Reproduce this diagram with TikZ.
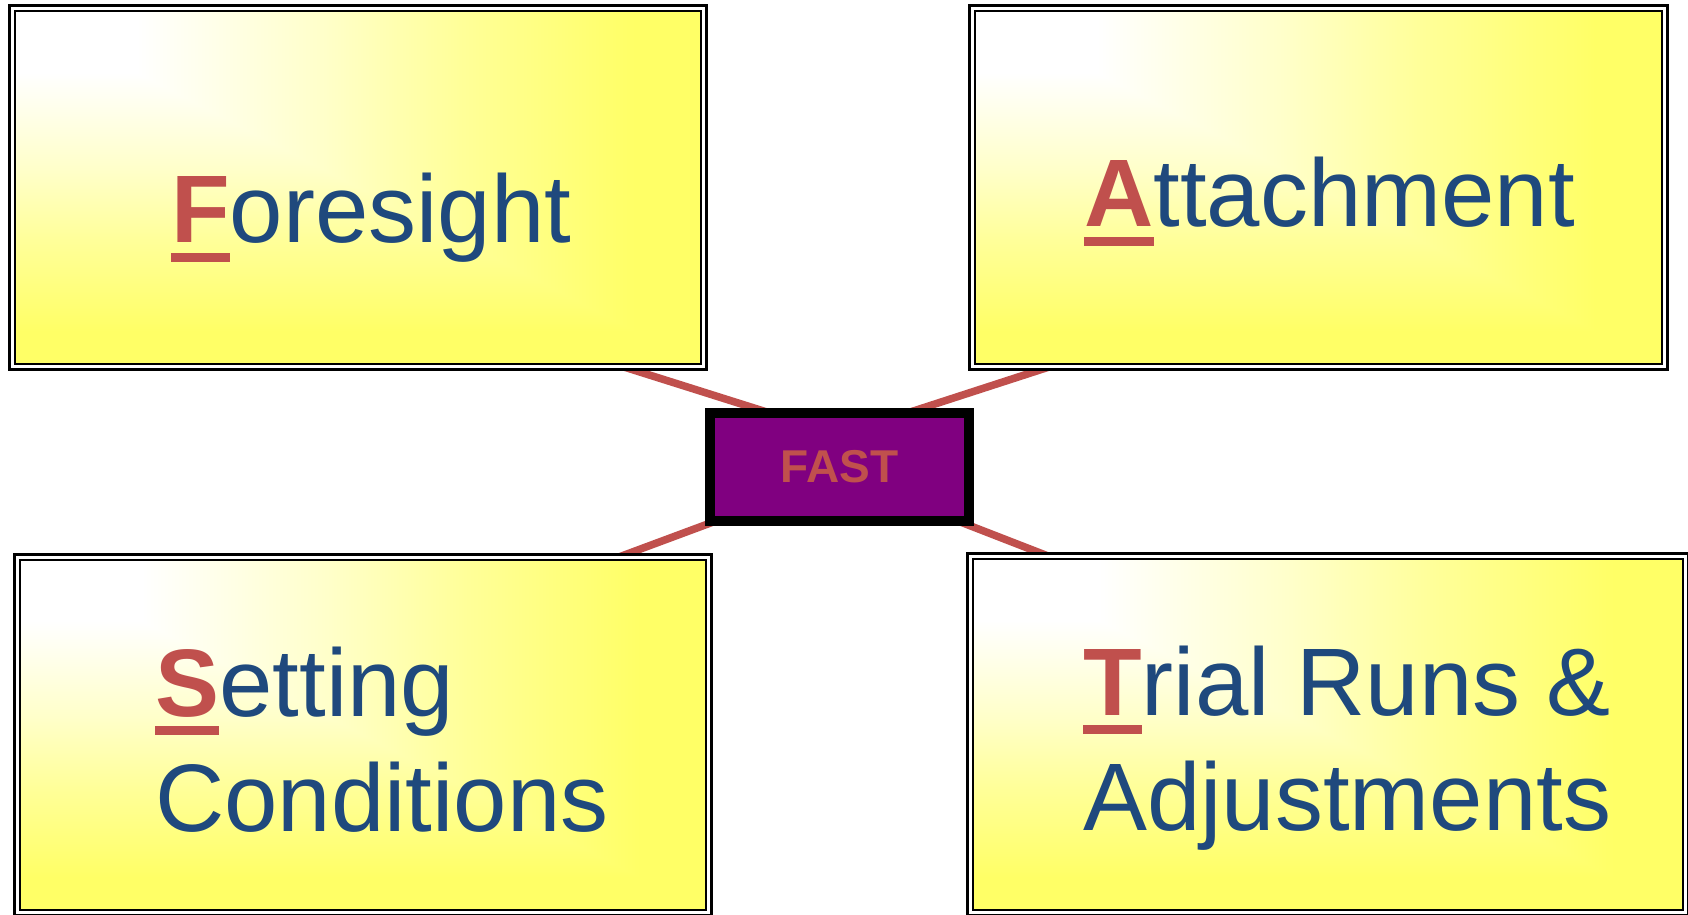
\documentclass[tikz,border=0pt]{standalone}
\usepackage{fontspec}
\setmainfont{Liberation Sans}
\usetikzlibrary{positioning, calc, backgrounds}
\definecolor{cblue}{HTML}{1F497D}
\definecolor{cred}{HTML}{C0504D}
\definecolor{cpurple}{HTML}{800080}
\definecolor{cyellow}{HTML}{FFFF66}
\pgfdeclarehorizontalshading{cardacross}{100bp}{%
  color(0bp)=(white); color(34bp)=(white); color(47.5bp)=(cyellow!35!white);
  color(57.5bp)=(cyellow!67!white); color(70bp)=(cyellow); color(100bp)=(cyellow)}
\pgfdeclareverticalshading{carddown}{100bp}{%
  color(0bp)=(cyellow); color(30bp)=(cyellow); color(42.5bp)=(cyellow!67!white);
  color(52.5bp)=(cyellow!35!white); color(66bp)=(white); color(100bp)=(white)}
\newcommand{\keyletter}[1]{{\bfseries\color{cred}\sbox0{#1}\rlap{\rule[-0.2em]{\wd0}{0.1em}}\usebox0}}
\tikzset{
  card/.style={rectangle, draw=black, line width=1.4pt, double=white, double distance=1.7pt,
    inner sep=0pt, outer sep=0pt,
    path picture={
      \shade[shading=cardacross] (path picture bounding box.north west) rectangle (path picture bounding box.south east);
      \shade[shading=carddown] (path picture bounding box.north west) -- (path picture bounding box.south west)
        -- (path picture bounding box.south east) -- cycle;
    }},
  hub/.style={rectangle, draw=black, line width=5.7pt, fill=cpurple, text=cred, inner sep=0pt, outer sep=0pt,
    font=\fontsize{26.2}{30}\selectfont\bfseries},
  cardtext/.style={text=cblue, inner sep=0pt, anchor=base west, align=left,
    font=\fontsize{54.6}{65.4}\selectfont},
  spoke/.style={draw=cred, line width=4.3pt},
}

\begin{document}
\begin{tikzpicture}[x=0.02cm, y=-0.02cm]
  \useasboundingbox (0,0) rectangle (1688,915);
  \node[card, minimum width=13.84cm, minimum height=7.18cm] (foresight) at (358,187.5) {};
  \node[card, minimum width=13.86cm, minimum height=7.18cm] (attachment) at (1318.5,187.5) {};
  \node[card, minimum width=13.84cm, minimum height=7.12cm] (setting) at (363,735) {};
  \node[card, minimum width=14.32cm, minimum height=7.14cm] (trial) at (1328,734.5) {};
  \node[hub, minimum width=5.18cm, minimum height=2.16cm] (fast) at (839.5,467) {FAST};
  \node[cardtext] (foresighttext) at (171,243) {\keyletter{F}oresight};
  \node[cardtext] (attachmenttext) at (1084,227) {\keyletter{A}ttachment};
  \node[cardtext] (settingtext) at (155,831) {\keyletter{S}etting\\Conditions};
  \node[cardtext] (trialtext) at (1083,830) {\keyletter{T}rial Runs \&\\Adjustments};
  \begin{scope}[on background layer]
    \draw[spoke] ($(foresight.south east)+(-80,0)$) -- ($(fast.center)+(0,-32)$);
    \draw[spoke] ($(attachment.south west)+(77,0)$) -- ($(fast.center)+(0,-32)$);
    \draw[spoke] ($(setting.north east)+(-90,0)$) -- ($(fast.center)+(0,8)$);
    \draw[spoke] ($(trial.north west)+(78,0)$) -- ($(fast.center)+(0,8)$);
  \end{scope}
\end{tikzpicture}
\end{document}
